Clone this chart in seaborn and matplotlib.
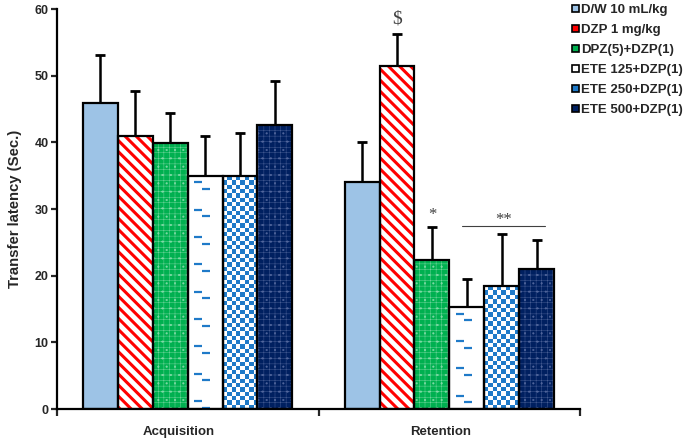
import numpy as np
import pandas as pd
import matplotlib
matplotlib.use('Agg')
from matplotlib import pyplot as plt
from matplotlib.patches import Rectangle, Patch
from matplotlib.transforms import ScaledTranslation
import seaborn as sns

# values
phases = ['Acquisition', 'Retention']
groups = ['D/W 10 mL/kg', 'DZP 1 mg/kg', 'DPZ(5)+DZP(1)',
          'ETE 125+DZP(1)', 'ETE 250+DZP(1)', 'ETE 500+DZP(1)']
acq_mean = [46.0, 41.0, 39.9, 35.0, 34.9, 42.6]
acq_sem = [7.2, 6.8, 4.6, 6.0, 6.5, 6.6]
ret_mean = [34.0, 51.5, 22.4, 15.3, 18.4, 21.0]
ret_sem = [6.1, 4.8, 4.9, 4.2, 7.8, 4.3]

df = pd.DataFrame({'phase': np.repeat(phases, len(groups)),
                   'group': groups * 2,
                   'latency': acq_mean + ret_mean,
                   'sem': acq_sem + ret_sem})

# bar styles per group
face = ['#9dc3e6', 'white', '#00b050', 'white', 'white', '#002060']
hatch = [None, '\\\\\\', '+++..', None, None, '+++..']
hatch_col = [None, '#ff0000', '#7fd9a6', None, None, '#51669c']
hatch_lw = [0, 2.2, 0.3, 0, 0, 0.3]
blue = '#1f7ac8'

sns.set_style('white')
plt.rcParams['font.family'] = ['Liberation Sans', 'DejaVu Sans']
plt.rcParams['font.weight'] = 'bold'

fig = plt.figure(figsize=(6.85, 4.38), dpi=100)
ax = fig.add_axes([0.083, 0.066, 0.764, 0.913])

sns.barplot(data=df, x='phase', y='latency', hue='group', hue_order=groups,
            errorbar=None, width=0.8, gap=0, saturation=1, legend=False, ax=ax)

ax.set_ylim(0, 60)
ax.set_xlim(-0.5, 1.5)

bars = list(ax.containers)
for i, cont in enumerate(bars):
    sub = df[df['group'] == groups[i]]
    for j, bar in enumerate(cont):
        x0, w, h = bar.get_x(), bar.get_width(), bar.get_height()
        bar.set_facecolor(face[i])
        bar.set_linewidth(0)
        bar.set_zorder(2)
        if hatch[i]:
            bar.set_hatch(hatch[i])
            bar.set_edgecolor(hatch_col[i])
            try:
                bar.set_hatch_linewidth(hatch_lw[i])
            except AttributeError:
                pass
        if i == 4:
            # checkerboard fill
            ny = int(round(h / 0.65))
            board = (np.add.outer(np.arange(ny), np.arange(8)) % 2)
            im = ax.imshow(board, cmap=matplotlib.colors.ListedColormap(['white', blue]),
                           extent=(x0, x0 + w, 0, h), aspect='auto', zorder=2.5,
                           interpolation='nearest')
            im.set_clip_path(bar)
        if i == 3:
            # short dashes
            ys = np.arange(h - 1.0, 0.5, -4.1)
            ax.plot(np.full(len(ys), x0 + 0.3 * w), ys, ls='none', marker='_',
                    ms=6, mew=1.6, color=blue, zorder=2.6)
            ax.plot(np.full(len(ys), x0 + 0.52 * w), ys - 1.0, ls='none', marker='_',
                    ms=6, mew=1.6, color=blue, zorder=2.6)
        ax.add_patch(Rectangle((x0, 0), w, h, fill=False, edgecolor='black',
                               linewidth=1.6, zorder=3))
        ax.errorbar(x0 + w / 2, h, yerr=[[0], [sub['sem'].iloc[j]]], fmt='none',
                    ecolor='black', elinewidth=1.8, capsize=3.5, capthick=2, zorder=1)

ax.set_xlim(-0.5, 1.5)
ax.set_ylim(0, 60)

# significance marks
ret = {groups[i]: bars[i][1] for i in range(len(groups))}
b = ret['DZP 1 mg/kg']
ax.text(b.get_x() + b.get_width() / 2, 57.3, '$', ha='center', va='bottom',
        family='Liberation Serif', fontweight='normal', fontsize=14, color='#404040')
b = ret['DPZ(5)+DZP(1)']
ax.text(b.get_x() + b.get_width() / 2, 27.85, '*', ha='center', va='bottom',
        family='Liberation Serif', fontweight='normal', fontsize=12, color='#404040')
b1, b2 = ret['ETE 125+DZP(1)'], ret['ETE 500+DZP(1)']
lx0 = b1.get_x() + 0.35 * b1.get_width()
lx1 = b2.get_x() + 0.75 * b2.get_width()
ax.plot([lx0, lx1], [27.4, 27.4], color='#404040', lw=0.8, zorder=4)
ax.text((lx0 + lx1) / 2, 27.15, '**', ha='center', va='bottom',
        family='Liberation Serif', fontweight='normal', fontsize=12, color='#404040')

# axes styling
for s in ['top', 'right']:
    ax.spines[s].set_visible(False)
for s in ['left', 'bottom']:
    ax.spines[s].set_linewidth(1.6)
    ax.spines[s].set_color('black')
ax.set_yticks(range(0, 61, 10))
ax.tick_params(axis='y', length=4, width=1.6, labelsize=9, pad=2, left=True)
ax.set_xticks([-0.5, 0.5, 1.5], minor=True)
ax.tick_params(axis='x', which='major', length=0, labelsize=9.5, pad=12)
ax.tick_params(axis='x', which='minor', length=5, width=1.6, bottom=True, direction='out')
shift = ScaledTranslation(-0.09, 0, fig.dpi_scale_trans)
for lab in ax.get_xticklabels():
    lab.set_fontweight('bold')
    lab.set_transform(lab.get_transform() + shift)
for lab in ax.get_yticklabels():
    lab.set_fontweight('bold')
ax.set_xlabel('')
ax.set_ylabel('Transfer latency (Sec.)', fontsize=10.7, fontweight='bold', labelpad=9)

# legend
leg_face = ['#9dc3e6', '#ff0000', '#00b050', 'white', blue, '#002060']
handles = [Patch(facecolor=leg_face[i], edgecolor='black', linewidth=1.2, label=g)
           for i, g in enumerate(groups)]
leg = fig.legend(handles=handles, loc='upper left', bbox_to_anchor=(0.835, 0.99),
                 frameon=False, fontsize=9.5, handlelength=0.5, handleheight=0.5,
                 handletextpad=0.2, labelspacing=0.6, borderaxespad=0, borderpad=0)
for t in leg.get_texts():
    t.set_fontweight('bold')

fig.savefig('out.png', dpi=100)
